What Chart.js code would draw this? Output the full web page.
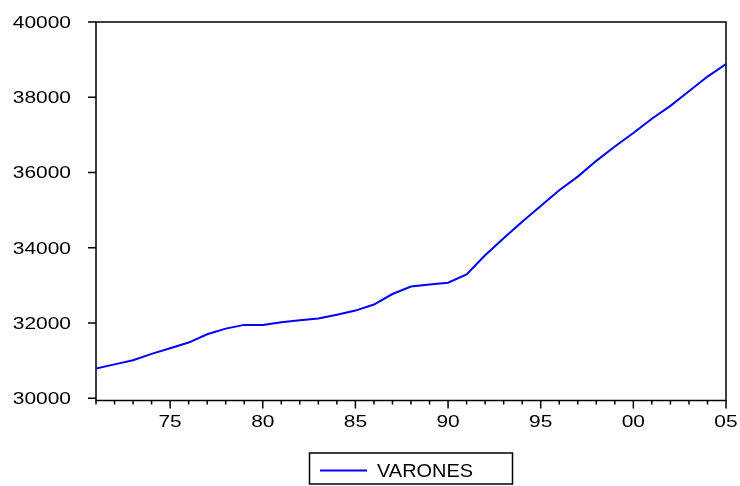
<!DOCTYPE html>
<html>
<head>
<meta charset="utf-8">
<script src="https://cdn.jsdelivr.net/npm/chart.js@4/dist/chart.umd.min.js"></script>
<style>
  html, body { margin: 0; padding: 0; background: #fff; }
  #wrap { width: 740px; height: 486px; }
</style>
</head>
<body>
<div id="wrap"><canvas id="chart" width="740" height="486"></canvas></div>
<script>
const years = [1971, 1972, 1973, 1974, 1975, 1976, 1977, 1978, 1979, 1980,
               1981, 1982, 1983, 1984, 1985, 1986, 1987, 1988, 1989, 1990,
               1991, 1992, 1993, 1994, 1995, 1996, 1997, 1998, 1999, 2000,
               2001, 2002, 2003, 2004, 2005];
const varones = [30790, 30900, 31010, 31180, 31330, 31480, 31700, 31850, 31950, 31950,
                 32020, 32070, 32120, 32220, 32330, 32490, 32770, 32970, 33020, 33070,
                 33290, 33800, 34250, 34690, 35110, 35530, 35890, 36310, 36690, 37050,
                 37430, 37770, 38160, 38550, 38880];
const yTicks = [30000, 32000, 34000, 36000, 38000, 40000];
const xLabelYears = [1975, 1980, 1985, 1990, 1995, 2000, 2005];
const xLabels = ['75', '80', '85', '90', '95', '00', '05'];
const seriesName = 'VARONES';

const FONT = '"Liberation Sans", Arial, sans-serif';

// draws the eviews style frame, ticks, labels and boxed legend
const evFrame = {
    id: 'evFrame',
    beforeDatasetsDraw(chart) {
        const { ctx, chartArea: a } = chart;
        const x = chart.scales.x, y = chart.scales.y;
        ctx.save();
        ctx.strokeStyle = '#000';
        ctx.lineWidth = 1.5;
        ctx.strokeRect(a.left, a.top, a.right - a.left, a.bottom - a.top);

        // y ticks + labels
        ctx.fillStyle = '#000';
        ctx.font = '17px ' + FONT;
        yTicks.forEach(v => {
            const py = y.getPixelForValue(v);
            ctx.beginPath();
            ctx.moveTo(a.left - 8, py);
            ctx.lineTo(a.left, py);
            ctx.stroke();
            ctx.save();
            ctx.translate(71, py + 6);
            ctx.scale(1.23, 1);
            ctx.textAlign = 'right';
            ctx.fillText(String(v), 0, 0);
            ctx.restore();
        });

        // x ticks: minor every year, major where labelled
        years.forEach(yr => {
            const px = x.getPixelForValue(yr);
            const major = xLabelYears.includes(yr);
            ctx.beginPath();
            ctx.moveTo(px, a.bottom);
            ctx.lineTo(px, a.bottom + (major ? 8 : 4));
            ctx.stroke();
        });
        xLabelYears.forEach((yr, i) => {
            const px = x.getPixelForValue(yr);
            ctx.save();
            ctx.translate(px, 426.5);
            ctx.scale(1.23, 1);
            ctx.textAlign = 'center';
            ctx.fillText(xLabels[i], 0, 0);
            ctx.restore();
        });

        // legend
        ctx.lineWidth = 1.5;
        ctx.strokeRect(309.5, 453, 203, 31);
        ctx.strokeStyle = '#0000ff';
        ctx.lineWidth = 2;
        ctx.beginPath();
        ctx.moveTo(320, 470.5);
        ctx.lineTo(367, 470.5);
        ctx.stroke();
        ctx.font = '19px ' + FONT;
        ctx.save();
        ctx.translate(377, 476.5);
        ctx.scale(1.05, 1);
        ctx.textAlign = 'left';
        ctx.fillText(seriesName, 0, 0);
        ctx.restore();
        ctx.restore();
    }
};

new Chart(document.getElementById('chart'), {
    type: 'line',
    data: {
        datasets: [{
            label: seriesName,
            data: years.map((yr, i) => ({ x: yr, y: varones[i] })),
            borderColor: '#0000ff',
            borderWidth: 2,
            pointRadius: 0,
            tension: 0,
            fill: false
        }]
    },
    options: {
        responsive: false,
        animation: false,
        layout: { padding: { left: 0, right: 14, top: 22, bottom: 0 } },
        scales: {
            x: {
                type: 'linear',
                min: 1971,
                max: 2005,
                ticks: { display: false },
                grid: { display: false },
                border: { display: false },
                afterFit: s => { s.height = 85.5; }
            },
            y: {
                min: 29940,
                max: 40000,
                ticks: { display: false },
                grid: { display: false },
                border: { display: false },
                afterFit: s => { s.width = 96; }
            }
        },
        plugins: {
            legend: { display: false },
            tooltip: { enabled: false }
        }
    },
    plugins: [evFrame]
});
</script>
</body>
</html>
